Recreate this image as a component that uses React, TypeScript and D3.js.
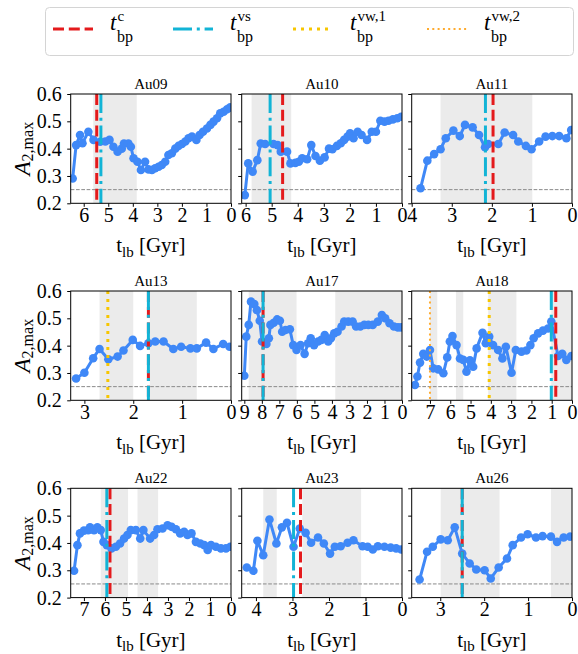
import React, { useRef, useEffect } from "react";
import * as d3 from "d3";

// look-back time [Gyr] and A2,max for each halo
const au09T = [6.45, 6.31, 6.15, 6.05, 5.81, 5.6, 5.33, 5.12, 4.95, 4.79, 4.62, 4.45, 4.36, 4.18, 4.08, 3.97, 3.81, 3.67, 3.5, 3.36, 3.22, 3.09, 2.95, 2.82, 2.68, 2.55, 2.41, 2.27, 2.14, 2.0, 1.86, 1.73, 1.59, 1.41, 1.28, 1.14, 0.98, 0.84, 0.71, 0.57, 0.44, 0.3, 0.16, 0.03];
const au09A = [0.291, 0.413, 0.45, 0.42, 0.462, 0.432, 0.425, 0.426, 0.432, 0.407, 0.389, 0.4, 0.419, 0.419, 0.407, 0.365, 0.352, 0.322, 0.352, 0.324, 0.322, 0.328, 0.334, 0.34, 0.352, 0.377, 0.383, 0.4, 0.41, 0.417, 0.426, 0.438, 0.444, 0.432, 0.45, 0.462, 0.474, 0.487, 0.499, 0.511, 0.529, 0.535, 0.544, 0.551];

const au10T = [6.03, 5.9, 5.73, 5.55, 5.42, 5.25, 4.93, 4.77, 4.65, 4.41, 4.28, 4.09, 3.96, 3.83, 3.64, 3.48, 3.32, 3.15, 2.97, 2.8, 2.67, 2.5, 2.35, 2.22, 2.09, 1.99, 1.86, 1.7, 1.55, 1.34, 1.16, 1.0, 0.83, 0.67, 0.52, 0.35, 0.18, 0.03];
const au10A = [0.23, 0.346, 0.316, 0.358, 0.419, 0.417, 0.417, 0.413, 0.389, 0.389, 0.346, 0.348, 0.352, 0.365, 0.361, 0.413, 0.373, 0.356, 0.368, 0.4, 0.398, 0.41, 0.42, 0.432, 0.444, 0.456, 0.438, 0.462, 0.45, 0.432, 0.462, 0.462, 0.502, 0.499, 0.502, 0.507, 0.511, 0.517];

const au11T = [3.78, 3.61, 3.44, 3.28, 3.15, 2.96, 2.8, 2.67, 2.48, 2.32, 2.17, 2.09, 1.84, 1.68, 1.47, 1.34, 1.15, 1.01, 0.82, 0.66, 0.49, 0.32, 0.14, 0.02];
const au11A = [0.255, 0.356, 0.38, 0.398, 0.438, 0.466, 0.446, 0.487, 0.478, 0.45, 0.405, 0.417, 0.417, 0.459, 0.45, 0.426, 0.41, 0.398, 0.426, 0.444, 0.446, 0.446, 0.438, 0.468];

const au13T = [3.17, 3.0, 2.82, 2.69, 2.51, 2.32, 2.2, 2.01, 1.86, 1.69, 1.55, 1.38, 1.18, 1.02, 0.83, 0.7, 0.51, 0.36, 0.16, 0.03];
const au13A = [0.28, 0.301, 0.354, 0.388, 0.35, 0.36, 0.382, 0.421, 0.399, 0.409, 0.415, 0.415, 0.388, 0.396, 0.39, 0.39, 0.411, 0.388, 0.406, 0.396];

const au17T = [9.0, 8.89, 8.75, 8.62, 8.43, 8.28, 8.12, 7.99, 7.74, 7.6, 7.51, 7.32, 7.13, 6.97, 6.84, 6.65, 6.4, 6.21, 6.02, 5.79, 5.56, 5.36, 5.21, 5.02, 4.79, 4.6, 4.41, 4.21, 4.06, 3.87, 3.68, 3.45, 3.3, 3.07, 2.82, 2.62, 2.38, 2.15, 1.92, 1.67, 1.38, 1.15, 0.96, 0.71, 0.46, 0.23, 0.04];
const au17A = [0.29, 0.433, 0.476, 0.561, 0.552, 0.53, 0.491, 0.415, 0.406, 0.427, 0.476, 0.484, 0.496, 0.491, 0.451, 0.457, 0.46, 0.402, 0.384, 0.402, 0.37, 0.409, 0.427, 0.402, 0.415, 0.421, 0.439, 0.415, 0.427, 0.445, 0.451, 0.47, 0.488, 0.488, 0.488, 0.47, 0.47, 0.476, 0.476, 0.476, 0.488, 0.512, 0.5, 0.482, 0.47, 0.467, 0.467];

const au18T = [7.74, 7.62, 7.49, 7.33, 7.16, 7.0, 6.84, 6.59, 6.34, 6.15, 6.02, 5.89, 5.69, 5.52, 5.36, 5.2, 5.03, 4.87, 4.7, 4.41, 4.25, 4.08, 3.89, 3.64, 3.43, 3.26, 2.98, 2.77, 2.49, 2.25, 2.05, 1.89, 1.67, 1.43, 1.18, 1.02, 0.69, 0.48, 0.28, 0.03];
const au18A = [0.256, 0.287, 0.338, 0.37, 0.36, 0.384, 0.317, 0.313, 0.299, 0.357, 0.415, 0.435, 0.402, 0.353, 0.348, 0.305, 0.346, 0.323, 0.39, 0.447, 0.409, 0.433, 0.402, 0.384, 0.353, 0.396, 0.301, 0.384, 0.378, 0.382, 0.402, 0.427, 0.445, 0.455, 0.463, 0.488, 0.362, 0.37, 0.348, 0.362];

const au22T = [7.47, 7.31, 7.19, 7.0, 6.8, 6.71, 6.52, 6.36, 6.2, 6.07, 5.91, 5.69, 5.48, 5.28, 5.09, 4.93, 4.77, 4.53, 4.32, 4.17, 3.85, 3.66, 3.5, 3.26, 3.02, 2.83, 2.62, 2.42, 2.23, 2.07, 1.88, 1.67, 1.46, 1.27, 1.11, 0.95, 0.72, 0.48, 0.24, 0.03];
const au22A = [0.298, 0.392, 0.435, 0.445, 0.447, 0.457, 0.447, 0.457, 0.447, 0.404, 0.392, 0.38, 0.386, 0.398, 0.416, 0.429, 0.447, 0.447, 0.416, 0.447, 0.416, 0.429, 0.45, 0.453, 0.465, 0.459, 0.45, 0.435, 0.441, 0.429, 0.435, 0.404, 0.398, 0.392, 0.374, 0.392, 0.386, 0.38, 0.38, 0.386];

const au23T = [4.25, 4.07, 3.96, 3.8, 3.63, 3.44, 3.29, 3.15, 2.97, 2.8, 2.64, 2.49, 2.3, 2.14, 1.97, 1.84, 1.68, 1.49, 1.33, 1.08, 0.94, 0.8, 0.66, 0.48, 0.31, 0.16, 0.02];
const au23A = [0.31, 0.298, 0.408, 0.355, 0.486, 0.398, 0.457, 0.474, 0.386, 0.453, 0.437, 0.401, 0.42, 0.398, 0.361, 0.386, 0.388, 0.401, 0.41, 0.388, 0.386, 0.376, 0.388, 0.386, 0.383, 0.38, 0.376];

const au26T = [3.47, 3.3, 3.17, 2.99, 2.83, 2.67, 2.5, 2.33, 2.18, 1.99, 1.85, 1.67, 1.48, 1.35, 1.16, 1.01, 0.82, 0.67, 0.48, 0.34, 0.19, 0.04];
const au26A = [0.266, 0.368, 0.386, 0.413, 0.41, 0.457, 0.361, 0.325, 0.303, 0.3, 0.27, 0.31, 0.343, 0.392, 0.42, 0.432, 0.42, 0.425, 0.423, 0.404, 0.42, 0.423];

const haloNames = ["Au09", "Au10", "Au11", "Au13", "Au17", "Au18", "Au22", "Au23", "Au26"];
const seriesT = [au09T, au10T, au11T, au13T, au17T, au18T, au22T, au23T, au26T];
const seriesA = [au09A, au10A, au11A, au13A, au17A, au18A, au22A, au23A, au26A];
// x-axis upper limit (oldest look-back time shown)
const tMax = [6.53, 6.15, 4.0, 3.28, 9.15, 7.9, 7.63, 4.39, 3.65];
// break-point times, null when absent
const tbpC = [5.47, 4.58, 1.97, 1.69, 7.93, 0.8, 5.76, 2.78, 2.5];
const tbpVS = [5.3, 5.06, 2.16, 1.69, 7.93, 1.02, 5.91, 2.97, 2.5];
const tbpVW1 = [null, null, null, 2.52, null, 4.08, null, null, null];
const tbpVW2 = [null, null, null, null, null, 7.0, null, null, null];
// grey shaded intervals [start, end] in Gyr
const shaded = [
  [[5.61, 3.84]],
  [[5.77, 4.25]],
  [[3.28, 0.99]],
  [[2.69, 2.0], [1.66, 0.7]],
  [[8.75, 6.02], [3.81, 0]],
  [[7.0, 6.64], [5.72, 5.36], [4.13, 2.74], [1.02, 0]],
  [[6.2, 4.9], [4.45, 3.47]],
  [[3.8, 3.43], [2.73, 1.12]],
  [[2.99, 1.65], [0.48, 0]],
];
const yTicks = [0.2, 0.3, 0.4, 0.5, 0.6];
const threshold = 0.25;

const FONT = "Liberation Serif";
const COLS = [70.7, 241.7, 411.7];
const ROWS = [94, 291, 488.3];
const PW = 160.3;
const PH = 109.3;

const BLUE = "#3f88f7";
const RED = "#e41a1c";
const CYAN = "#12b4d6";
const YELLOW = "#f7c600";
const ORANGE = "#ffab2e";

const lineStyles = [
  { key: "c", color: RED, width: 3, dash: "11,4.8" },
  { key: "vs", color: CYAN, width: 3, dash: "19,4.8,3,4.8" },
  { key: "vw,1", color: YELLOW, width: 3, dash: "3,5" },
  { key: "vw,2", color: ORANGE, width: 2, dash: "2,3.3" },
];

export default function App() {
  const svgRef = useRef<SVGSVGElement>(null);

  useEffect(() => {
    const svg = d3.select(svgRef.current);
    svg.selectAll("*").remove();

    const txt = (sel: any, size: number) =>
      sel.attr("font-family", FONT).attr("font-size", size).attr("fill", "#000");

    // legend
    const leg = svg.append("g");
    leg.append("rect")
      .attr("x", 45.5).attr("y", 7.5)
      .attr("width", 528).attr("height", 48)
      .attr("rx", 4)
      .attr("fill", "#fff")
      .attr("stroke", "#d4d4d4")
      .attr("stroke-width", 1);
    const legX = [53, 173, 293, 427];
    lineStyles.forEach((s, i) => {
      const x0 = legX[i];
      leg.append("line")
        .attr("x1", x0).attr("x2", x0 + 40)
        .attr("y1", 29).attr("y2", 29)
        .attr("stroke", s.color)
        .attr("stroke-width", s.width)
        .attr("stroke-dasharray", s.dash);
      const tx = x0 + 57;
      leg.append("text")
        .attr("x", tx).attr("y", 30)
        .call(txt, 23)
        .attr("font-style", "italic")
        .text("t");
      leg.append("text")
        .attr("x", tx + 7).attr("y", 41.5)
        .call(txt, 16)
        .text("bp");
      leg.append("text")
        .attr("x", tx + 7.5).attr("y", 21)
        .call(txt, 15)
        .text(s.key);
    });

    haloNames.forEach((name, i) => {
      const col = i % 3;
      const row = Math.floor(i / 3);
      const x = d3.scaleLinear().domain([tMax[i], 0]).range([0, PW]);
      const y = d3.scaleLinear().domain([0.2, 0.6]).range([PH, 0]);

      const g = svg.append("g")
        .attr("transform", `translate(${COLS[col]},${ROWS[row]})`);

      g.append("clipPath")
        .attr("id", `clip-${i}`)
        .append("rect")
        .attr("width", PW).attr("height", PH);

      const inner = g.append("g").attr("clip-path", `url(#clip-${i})`);

      inner.selectAll("rect.span")
        .data(shaded[i])
        .join("rect")
        .attr("class", "span")
        .attr("x", d => x(d[0]))
        .attr("width", d => x(d[1]) - x(d[0]))
        .attr("y", 0).attr("height", PH)
        .attr("fill", "#ebebeb");

      inner.append("line")
        .attr("x1", 0).attr("x2", PW)
        .attr("y1", y(threshold)).attr("y2", y(threshold))
        .attr("stroke", "#8a8a8a")
        .attr("stroke-width", 1)
        .attr("stroke-dasharray", "3.7,1.6");

      const pts = seriesT[i].map((t, k) => [t, seriesA[i][k]] as [number, number]);
      const line = d3.line<[number, number]>()
        .x(d => x(d[0]))
        .y(d => y(d[1]));

      inner.append("path")
        .attr("d", line(pts))
        .attr("fill", "none")
        .attr("stroke", BLUE)
        .attr("stroke-width", 3)
        .attr("stroke-linejoin", "round");

      inner.selectAll("circle")
        .data(pts)
        .join("circle")
        .attr("cx", d => x(d[0]))
        .attr("cy", d => y(d[1]))
        .attr("r", 4.3)
        .attr("fill", BLUE);

      // break-point lines, red first so cyan sits on top
      const bps = [tbpC[i], tbpVS[i], tbpVW1[i], tbpVW2[i]];
      bps.forEach((t, k) => {
        if (t === null) return;
        const s = lineStyles[k];
        inner.append("line")
          .attr("x1", x(t)).attr("x2", x(t))
          .attr("y1", 0).attr("y2", PH)
          .attr("stroke", s.color)
          .attr("stroke-width", s.width)
          .attr("stroke-dasharray", s.dash);
      });

      g.append("rect")
        .attr("width", PW).attr("height", PH)
        .attr("fill", "none")
        .attr("stroke", "#000")
        .attr("stroke-width", 1);

      // axes
      const xTicks = d3.range(0, Math.floor(tMax[i]) + 1);
      const xAxis = g.append("g")
        .attr("transform", `translate(0,${PH})`)
        .call(d3.axisBottom(x).tickValues(xTicks).tickSize(3.5).tickFormat(d3.format("d")));
      xAxis.attr("font-family", null).attr("font-size", null);
      xAxis.select(".domain").remove();
      xAxis.selectAll("line").attr("stroke", "#000");
      xAxis.selectAll("text")
        .attr("y", 18.5).attr("dy", null)
        .call(txt, 20);

      const yAxis = g.append("g")
        .call(d3.axisLeft(y).tickValues(yTicks).tickSize(3.5)
          .tickFormat(col === 0 ? d3.format(".1f") : () => ""));
      yAxis.attr("font-family", null).attr("font-size", null);
      yAxis.select(".domain").remove();
      yAxis.selectAll("line").attr("stroke", "#000");
      yAxis.selectAll("text")
        .attr("x", -9).attr("dy", "0.33em")
        .call(txt, 20);

      g.append("text")
        .attr("x", PW / 2).attr("y", -5.5)
        .attr("text-anchor", "middle")
        .call(txt, 15)
        .text(name);

      const xl = g.append("text")
        .attr("x", PW / 2).attr("y", PH + 49)
        .attr("text-anchor", "middle")
        .call(txt, 21);
      xl.append("tspan").text("t");
      xl.append("tspan").attr("dy", 4.5).attr("font-size", 15).text("lb");
      xl.append("tspan").attr("dy", -4.5).text(" [Gyr]");

      if (col === 0) {
        const yl = g.append("text")
          .attr("transform", `translate(-41,${PH / 2}) rotate(-90)`)
          .attr("text-anchor", "middle")
          .call(txt, 23);
        yl.append("tspan").attr("font-style", "italic").text("A");
        yl.append("tspan").attr("dy", 3.5).attr("font-size", 16).text("2,max");
      }
    });
  }, []);

  return (
    <svg
      ref={svgRef}
      width={578}
      height={654}
      style={{ position: "absolute", left: 0, top: 0, background: "#fff" }}
    />
  );
}
